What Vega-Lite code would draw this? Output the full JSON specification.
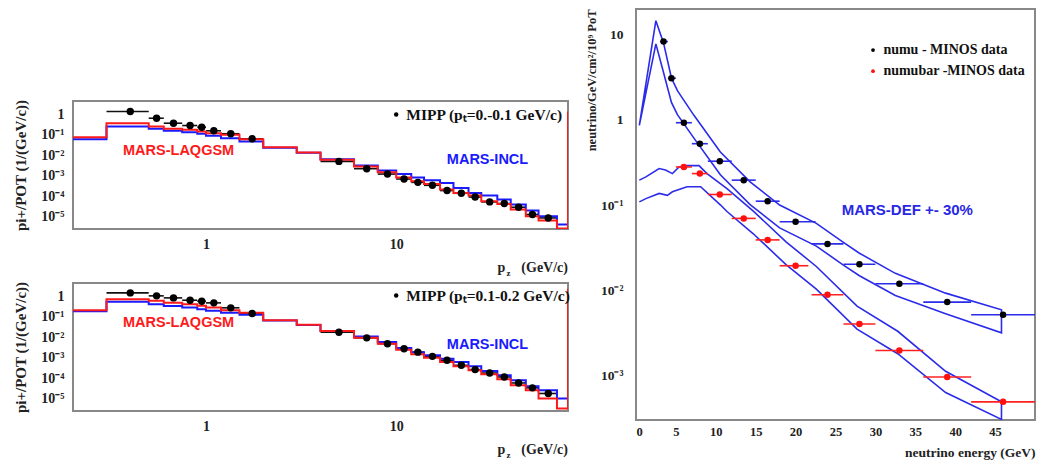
{
  "$schema": "https://vega.github.io/schema/vega-lite/v6.json",
  "padding": {"left": 12, "top": 7, "right": 0, "bottom": 0},
  "background": "white",
  "config": {
    "font": "Liberation Serif",
    "view": {"stroke": "#888888", "strokeWidth": 2},
    "axis": {"domain": false, "ticks": false, "tickSize": 0, "grid": false, "labelFont": "Liberation Serif", "labelFontWeight": "bold", "labelColor": "#222222", "titleFont": "Liberation Serif", "titleFontWeight": "bold", "titleColor": "#222222"}
  },
  "datasets": {
    "one": [{}],
    "histTop": [
      {"m":"L","x":0.2,"y":0.078},{"m":"L","x":0.3,"y":0.377},{"m":"L","x":0.5,"y":0.26},{"m":"L","x":0.6,"y":0.2},{"m":"L","x":0.75,"y":0.18},{"m":"L","x":0.9,"y":0.148},{"m":"L","x":1.0,"y":0.122},{"m":"L","x":1.2,"y":0.102},{"m":"L","x":1.5,"y":0.062},{"m":"L","x":2,"y":0.0254},{"m":"L","x":3,"y":0.014},{"m":"L","x":4,"y":0.0062},{"m":"L","x":6,"y":0.0029},{"m":"L","x":8,"y":0.00148},{"m":"L","x":10,"y":0.00084},{"m":"L","x":12,"y":0.00054},{"m":"L","x":14,"y":0.0004},{"m":"L","x":17,"y":0.000212},{"m":"L","x":20,"y":0.000145},{"m":"L","x":24,"y":0.000108},{"m":"L","x":28,"y":5.7e-5},{"m":"L","x":34,"y":4.2e-5},{"m":"L","x":40,"y":2.25e-5},{"m":"L","x":48,"y":1.06e-5},{"m":"L","x":56,"y":6.5e-6},{"m":"L","x":70,"y":2.65e-6},{"m":"L","x":80,"y":1.4},
      {"m":"I","x":0.2,"y":0.062},{"m":"I","x":0.3,"y":0.26},{"m":"I","x":0.5,"y":0.2},{"m":"I","x":0.6,"y":0.16},{"m":"I","x":0.75,"y":0.137},{"m":"I","x":0.9,"y":0.115},{"m":"I","x":1.0,"y":0.091},{"m":"I","x":1.2,"y":0.07},{"m":"I","x":1.5,"y":0.048},{"m":"I","x":2,"y":0.024},{"m":"I","x":3,"y":0.0135},{"m":"I","x":4,"y":0.0065},{"m":"I","x":6,"y":0.00325},{"m":"I","x":8,"y":0.0018},{"m":"I","x":10,"y":0.00122},{"m":"I","x":12,"y":0.00084},{"m":"I","x":14,"y":0.0006},{"m":"I","x":17,"y":0.000445},{"m":"I","x":20,"y":0.000254},{"m":"I","x":24,"y":0.000145},{"m":"I","x":28,"y":0.000108},{"m":"I","x":34,"y":6.9e-5},{"m":"I","x":40,"y":3.94e-5},{"m":"I","x":48,"y":2.0e-5},{"m":"I","x":56,"y":1.06e-5},{"m":"I","x":70,"y":4.2e-6},{"m":"I","x":80,"y":4.2e-6}
    ],
    "histBot": [
      {"m":"L","x":0.2,"y":0.215},{"m":"L","x":0.3,"y":0.74},{"m":"L","x":0.5,"y":0.62},{"m":"L","x":0.6,"y":0.49},{"m":"L","x":0.75,"y":0.42},{"m":"L","x":0.9,"y":0.35},{"m":"L","x":1.0,"y":0.29},{"m":"L","x":1.2,"y":0.215},{"m":"L","x":1.5,"y":0.16},{"m":"L","x":2,"y":0.07},{"m":"L","x":3,"y":0.042},{"m":"L","x":4,"y":0.0203},{"m":"L","x":6,"y":0.0097},{"m":"L","x":8,"y":0.0049},{"m":"L","x":10,"y":0.0025},{"m":"L","x":12,"y":0.00148},{"m":"L","x":14,"y":0.00102},{"m":"L","x":17,"y":0.00063},{"m":"L","x":20,"y":0.000385},{"m":"L","x":24,"y":0.000245},{"m":"L","x":28,"y":0.000157},{"m":"L","x":34,"y":8.9e-5},{"m":"L","x":40,"y":4.6e-5},{"m":"L","x":48,"y":2.6e-5},{"m":"L","x":56,"y":1.02e-5},{"m":"L","x":70,"y":3.3e-6},{"m":"L","x":80,"y":2.4},
      {"m":"I","x":0.2,"y":0.19},{"m":"I","x":0.3,"y":0.55},{"m":"I","x":0.5,"y":0.42},{"m":"I","x":0.6,"y":0.34},{"m":"I","x":0.75,"y":0.29},{"m":"I","x":0.9,"y":0.24},{"m":"I","x":1.0,"y":0.2},{"m":"I","x":1.2,"y":0.16},{"m":"I","x":1.5,"y":0.13},{"m":"I","x":2,"y":0.068},{"m":"I","x":3,"y":0.041},{"m":"I","x":4,"y":0.0205},{"m":"I","x":6,"y":0.0112},{"m":"I","x":8,"y":0.0059},{"m":"I","x":10,"y":0.003},{"m":"I","x":12,"y":0.0019},{"m":"I","x":14,"y":0.00132},{"m":"I","x":17,"y":0.00091},{"m":"I","x":20,"y":0.00063},{"m":"I","x":24,"y":0.000385},{"m":"I","x":28,"y":0.000228},{"m":"I","x":34,"y":0.00014},{"m":"I","x":40,"y":8.0e-5},{"m":"I","x":48,"y":4.1e-5},{"m":"I","x":56,"y":2.6e-5},{"m":"I","x":70,"y":1.02e-5},{"m":"I","x":80,"y":1.02e-5}
    ],
    "mippTop": [
      {"x":0.4,"lo":0.3,"hi":0.5,"y":1.4},{"x":0.55,"lo":0.5,"hi":0.6,"y":0.66},{"x":0.675,"lo":0.6,"hi":0.75,"y":0.377},{"x":0.825,"lo":0.75,"hi":0.9,"y":0.29},{"x":0.95,"lo":0.9,"hi":1.0,"y":0.24},{"x":1.1,"lo":1.0,"hi":1.2,"y":0.16},{"x":1.35,"lo":1.2,"hi":1.5,"y":0.115},{"x":1.75,"lo":1.5,"hi":2,"y":0.065},
      {"x":5,"lo":4,"hi":6,"y":0.0051},{"x":7,"lo":6,"hi":8,"y":0.00224},{"x":9,"lo":8,"hi":10,"y":0.00122},{"x":11,"lo":10,"hi":12,"y":0.0007},{"x":13,"lo":12,"hi":14,"y":0.00048},{"x":15.5,"lo":14,"hi":17,"y":0.000344},{"x":18.5,"lo":17,"hi":20,"y":0.00019},{"x":22,"lo":20,"hi":24,"y":0.00014},{"x":26,"lo":24,"hi":28,"y":9.2e-5},{"x":31,"lo":28,"hi":34,"y":5.3e-5},{"x":37,"lo":34,"hi":40,"y":4.4e-5},{"x":44,"lo":40,"hi":48,"y":2.9e-5},{"x":52,"lo":48,"hi":56,"y":1.28e-5},{"x":63,"lo":56,"hi":70,"y":8.7e-6}
    ],
    "mippBot": [
      {"x":0.4,"lo":0.3,"hi":0.5,"y":1.51},{"x":0.55,"lo":0.5,"hi":0.6,"y":1.08},{"x":0.675,"lo":0.6,"hi":0.75,"y":0.86},{"x":0.825,"lo":0.75,"hi":0.9,"y":0.66},{"x":0.95,"lo":0.9,"hi":1.0,"y":0.59},{"x":1.1,"lo":1.0,"hi":1.2,"y":0.49},{"x":1.35,"lo":1.2,"hi":1.5,"y":0.28},{"x":1.75,"lo":1.5,"hi":2,"y":0.148},
      {"x":5,"lo":4,"hi":6,"y":0.018},{"x":7,"lo":6,"hi":8,"y":0.0095},{"x":9,"lo":8,"hi":10,"y":0.0049},{"x":11,"lo":10,"hi":12,"y":0.0028},{"x":13,"lo":12,"hi":14,"y":0.0019},{"x":15.5,"lo":14,"hi":17,"y":0.00118},{"x":18.5,"lo":17,"hi":20,"y":0.00076},{"x":22,"lo":20,"hi":24,"y":0.00043},{"x":26,"lo":24,"hi":28,"y":0.000265},{"x":31,"lo":28,"hi":34,"y":0.00018},{"x":37,"lo":34,"hi":40,"y":0.000116},{"x":44,"lo":40,"hi":48,"y":5.9e-5},{"x":52,"lo":48,"hi":56,"y":3.4e-5},{"x":63,"lo":56,"hi":70,"y":1.8e-5}
    ],
    "minos": [
      {"s":"numu","E":3.45,"lo":3,"hi":4,"v":8.3},{"s":"numu","E":4.44,"lo":4,"hi":5,"v":3.08},{"s":"numu","E":6,"lo":5,"hi":7,"v":0.925},{"s":"numu","E":8,"lo":7,"hi":9,"v":0.525},{"s":"numu","E":10.5,"lo":9,"hi":12,"v":0.327},{"s":"numu","E":13.5,"lo":12,"hi":15,"v":0.196},{"s":"numu","E":16.5,"lo":15,"hi":18,"v":0.111},{"s":"numu","E":20,"lo":18,"hi":22.5,"v":0.0638},{"s":"numu","E":24,"lo":22,"hi":26,"v":0.035},{"s":"numu","E":28,"lo":26,"hi":30,"v":0.0202},{"s":"numu","E":33,"lo":30,"hi":36,"v":0.0119},{"s":"numu","E":39,"lo":36,"hi":42,"v":0.00726},{"s":"numu","E":46,"lo":42,"hi":50,"v":0.00516},
      {"s":"numubar","E":6,"lo":5,"hi":7,"v":0.28},{"s":"numubar","E":8,"lo":7,"hi":9,"v":0.234},{"s":"numubar","E":10.5,"lo":9,"hi":12,"v":0.133},{"s":"numubar","E":13.5,"lo":12,"hi":15,"v":0.0697},{"s":"numubar","E":16.5,"lo":15,"hi":18,"v":0.039},{"s":"numubar","E":20,"lo":18,"hi":21.6,"v":0.0194},{"s":"numubar","E":24,"lo":22,"hi":26,"v":0.00885},{"s":"numubar","E":28,"lo":26,"hi":30,"v":0.00402},{"s":"numubar","E":33,"lo":30,"hi":36,"v":0.00196},{"s":"numubar","E":39,"lo":36,"hi":42,"v":0.00096},{"s":"numubar","E":46,"lo":42,"hi":50,"v":0.00049}
    ],
    "bands": [
      {"b":"numu","i":0,"E":0.42,"v":0.86},{"b":"numu","i":1,"E":2.49,"v":14.6},{"b":"numu","i":2,"E":3.45,"v":8.0},{"b":"numu","i":3,"E":4.44,"v":3.1},{"b":"numu","i":4,"E":5.19,"v":2.2},{"b":"numu","i":5,"E":7.26,"v":1.13},{"b":"numu","i":6,"E":10.57,"v":0.42},{"b":"numu","i":7,"E":14.3,"v":0.187},{"b":"numu","i":8,"E":18.0,"v":0.1},{"b":"numu","i":9,"E":22.6,"v":0.061},{"b":"numu","i":10,"E":25.9,"v":0.037},{"b":"numu","i":11,"E":28,"v":0.0272},{"b":"numu","i":12,"E":32.5,"v":0.0158},{"b":"numu","i":13,"E":38.8,"v":0.00925},{"b":"numu","i":14,"E":45.8,"v":0.0059},
      {"b":"numu","i":15,"E":45.8,"v":0.00316},{"b":"numu","i":16,"E":38.8,"v":0.0053},{"b":"numu","i":17,"E":32.5,"v":0.0087},{"b":"numu","i":18,"E":28,"v":0.0148},{"b":"numu","i":19,"E":25.9,"v":0.02},{"b":"numu","i":20,"E":22.6,"v":0.033},{"b":"numu","i":21,"E":18.0,"v":0.054},{"b":"numu","i":22,"E":14.3,"v":0.101},{"b":"numu","i":23,"E":10.57,"v":0.227},{"b":"numu","i":24,"E":7.26,"v":0.61},{"b":"numu","i":25,"E":5.19,"v":1.15},{"b":"numu","i":26,"E":4.44,"v":1.6},{"b":"numu","i":27,"E":3.45,"v":3.6},{"b":"numu","i":28,"E":2.49,"v":7.8},{"b":"numu","i":29,"E":0.42,"v":0.86},
      {"b":"numubar","i":0,"E":0.42,"v":0.196},{"b":"numubar","i":1,"E":1.24,"v":0.214},{"b":"numubar","i":2,"E":2.9,"v":0.268},{"b":"numubar","i":3,"E":3.7,"v":0.258},{"b":"numubar","i":4,"E":4.56,"v":0.234},{"b":"numubar","i":5,"E":5.4,"v":0.28},{"b":"numubar","i":6,"E":6.4,"v":0.29},{"b":"numubar","i":7,"E":7.9,"v":0.29},{"b":"numubar","i":8,"E":8.9,"v":0.234},{"b":"numubar","i":9,"E":11.4,"v":0.156},{"b":"numubar","i":10,"E":14.7,"v":0.085},{"b":"numubar","i":11,"E":18.8,"v":0.037},{"b":"numubar","i":12,"E":22.6,"v":0.019},{"b":"numubar","i":13,"E":27.7,"v":0.0065},{"b":"numubar","i":14,"E":32.8,"v":0.0033},{"b":"numubar","i":15,"E":38.8,"v":0.00112},{"b":"numubar","i":16,"E":45.8,"v":0.00049},
      {"b":"numubar","i":17,"E":45.8,"v":0.000305},{"b":"numubar","i":18,"E":38.8,"v":0.00063},{"b":"numubar","i":19,"E":32.8,"v":0.0018},{"b":"numubar","i":20,"E":27.7,"v":0.0035},{"b":"numubar","i":21,"E":22.6,"v":0.0103},{"b":"numubar","i":22,"E":18.8,"v":0.02},{"b":"numubar","i":23,"E":14.7,"v":0.046},{"b":"numubar","i":24,"E":11.4,"v":0.084},{"b":"numubar","i":25,"E":10.6,"v":0.1},{"b":"numubar","i":26,"E":8.1,"v":0.164},{"b":"numubar","i":27,"E":6.4,"v":0.164},{"b":"numubar","i":28,"E":4.56,"v":0.143},{"b":"numubar","i":29,"E":3.94,"v":0.13},{"b":"numubar","i":30,"E":2.9,"v":0.137},{"b":"numubar","i":31,"E":1.24,"v":0.119},{"b":"numubar","i":32,"E":0.42,"v":0.109}
    ]
  },
  "hconcat": [
    {
      "vconcat": [
        {"width": 495, "height": 38, "view": {"stroke": null}, "data": {"values": []}, "mark": "point"},
        {
          "width": 495, "height": 128,
          "layer": [
            {"data": {"name": "mippTop"}, "mark": {"type": "rule", "color": "#111111", "strokeWidth": 1.6},
             "encoding": {
               "x": {"field": "lo", "type": "quantitative", "scale": {"type": "log", "domain": [0.2, 80], "nice": false}, "axis": {"values": [1, 10], "labelExpr": "datum.value < 5 ? '1' : '10'", "labelFontSize": 14, "labelPadding": 8, "title": null}},
               "x2": {"field": "hi"},
               "y": {"field": "y", "type": "quantitative", "scale": {"type": "log", "domain": [2.5e-6, 4.6], "nice": false}, "axis": {"values": [1e-5, 1e-4, 1e-3, 1e-2, 1e-1, 1], "labelExpr": "datum.value > 0.5 ? '1' : datum.value > 0.05 ? '10⁻¹' : datum.value > 0.005 ? '10⁻²' : datum.value > 0.0005 ? '10⁻³' : datum.value > 0.00005 ? '10⁻⁴' : '10⁻⁵'", "labelFontSize": 14, "labelPadding": 9, "title": "pi+/POT (1/(GeV/c))", "titleFontSize": 15, "titlePadding": 12}}
             }},
            {"data": {"name": "histTop"}, "transform": [{"filter": "datum.m == 'I'"}], "mark": {"type": "line", "interpolate": "step-after", "color": "#1a1aff", "strokeWidth": 2, "clip": true},
             "encoding": {"x": {"field": "x", "type": "quantitative"}, "y": {"field": "y", "type": "quantitative"}}},
            {"data": {"name": "histTop"}, "transform": [{"filter": "datum.m == 'L'"}], "mark": {"type": "line", "interpolate": "step-after", "color": "#ff1a1a", "strokeWidth": 2, "clip": true},
             "encoding": {"x": {"field": "x", "type": "quantitative"}, "y": {"field": "y", "type": "quantitative"}}},
            {"data": {"name": "mippTop"}, "mark": {"type": "circle", "color": "#000000", "size": 55, "opacity": 1},
             "encoding": {"x": {"field": "x", "type": "quantitative"}, "y": {"field": "y", "type": "quantitative"}}},
            {"data": {"name": "one"}, "mark": {"type": "text", "text": "MARS-LAQGSM", "font": "Liberation Sans", "fontWeight": "bold", "fontSize": 14.5, "color": "#ff1a1a", "align": "center", "baseline": "middle"},
             "encoding": {"x": {"datum": 0.718, "type": "quantitative"}, "y": {"datum": 0.0157, "type": "quantitative"}}},
            {"data": {"name": "one"}, "mark": {"type": "text", "text": "MARS-INCL", "font": "Liberation Sans", "fontWeight": "bold", "fontSize": 14.5, "color": "#1a1aff", "align": "center", "baseline": "middle"},
             "encoding": {"x": {"datum": 30.2, "type": "quantitative"}, "y": {"datum": 0.0057, "type": "quantitative"}}},
            {"data": {"name": "one"}, "mark": {"type": "circle", "color": "#000000", "size": 20, "opacity": 1},
             "encoding": {"x": {"datum": 10, "type": "quantitative"}, "y": {"datum": 1.0, "type": "quantitative"}}},
            {"data": {"name": "one"}, "mark": {"type": "text", "text": "MIPP (pₜ=0.-0.1 GeV/c)", "font": "Liberation Serif", "fontWeight": "bold", "fontSize": 15.5, "color": "#111111", "align": "left", "baseline": "middle"},
             "encoding": {"x": {"datum": 11.3, "type": "quantitative"}, "y": {"datum": 1.0, "type": "quantitative"}}},
            {"data": {"name": "one"}, "mark": {"type": "text", "text": "p", "font": "Liberation Serif", "fontWeight": "bold", "fontSize": 14, "color": "#222222", "align": "left", "baseline": "middle"},
             "encoding": {"x": {"datum": 34.1, "type": "quantitative"}, "y": {"datum": 3.1e-8, "type": "quantitative"}}},
            {"data": {"name": "one"}, "mark": {"type": "text", "text": "z", "font": "Liberation Serif", "fontWeight": "bold", "fontSize": 9, "color": "#222222", "align": "left", "baseline": "middle", "dy": 5},
             "encoding": {"x": {"datum": 38.0, "type": "quantitative"}, "y": {"datum": 3.1e-8, "type": "quantitative"}}},
            {"data": {"name": "one"}, "mark": {"type": "text", "text": "(GeV/c)", "font": "Liberation Serif", "fontWeight": "bold", "fontSize": 14, "color": "#222222", "align": "right", "baseline": "middle"},
             "encoding": {"x": {"datum": 80, "type": "quantitative"}, "y": {"datum": 3.1e-8, "type": "quantitative"}}}
          ]
        },
        {
          "width": 495, "height": 128,
          "layer": [
            {"data": {"name": "mippBot"}, "mark": {"type": "rule", "color": "#111111", "strokeWidth": 1.6},
             "encoding": {
               "x": {"field": "lo", "type": "quantitative", "scale": {"type": "log", "domain": [0.2, 80], "nice": false}, "axis": {"values": [1, 10], "labelExpr": "datum.value < 5 ? '1' : '10'", "labelFontSize": 14, "labelPadding": 8, "title": null}},
               "x2": {"field": "hi"},
               "y": {"field": "y", "type": "quantitative", "scale": {"type": "log", "domain": [2.5e-6, 4.6], "nice": false}, "axis": {"values": [1e-5, 1e-4, 1e-3, 1e-2, 1e-1, 1], "labelExpr": "datum.value > 0.5 ? '1' : datum.value > 0.05 ? '10⁻¹' : datum.value > 0.005 ? '10⁻²' : datum.value > 0.0005 ? '10⁻³' : datum.value > 0.00005 ? '10⁻⁴' : '10⁻⁵'", "labelFontSize": 14, "labelPadding": 9, "title": "pi+/POT (1/(GeV/c))", "titleFontSize": 15, "titlePadding": 12}}
             }},
            {"data": {"name": "histBot"}, "transform": [{"filter": "datum.m == 'I'"}], "mark": {"type": "line", "interpolate": "step-after", "color": "#1a1aff", "strokeWidth": 2, "clip": true},
             "encoding": {"x": {"field": "x", "type": "quantitative"}, "y": {"field": "y", "type": "quantitative"}}},
            {"data": {"name": "histBot"}, "transform": [{"filter": "datum.m == 'L'"}], "mark": {"type": "line", "interpolate": "step-after", "color": "#ff1a1a", "strokeWidth": 2, "clip": true},
             "encoding": {"x": {"field": "x", "type": "quantitative"}, "y": {"field": "y", "type": "quantitative"}}},
            {"data": {"name": "mippBot"}, "mark": {"type": "circle", "color": "#000000", "size": 55, "opacity": 1},
             "encoding": {"x": {"field": "x", "type": "quantitative"}, "y": {"field": "y", "type": "quantitative"}}},
            {"data": {"name": "one"}, "mark": {"type": "text", "text": "MARS-LAQGSM", "font": "Liberation Sans", "fontWeight": "bold", "fontSize": 14.5, "color": "#ff1a1a", "align": "center", "baseline": "middle"},
             "encoding": {"x": {"datum": 0.718, "type": "quantitative"}, "y": {"datum": 0.052, "type": "quantitative"}}},
            {"data": {"name": "one"}, "mark": {"type": "text", "text": "MARS-INCL", "font": "Liberation Sans", "fontWeight": "bold", "fontSize": 14.5, "color": "#1a1aff", "align": "center", "baseline": "middle"},
             "encoding": {"x": {"datum": 30.2, "type": "quantitative"}, "y": {"datum": 0.0041, "type": "quantitative"}}},
            {"data": {"name": "one"}, "mark": {"type": "circle", "color": "#000000", "size": 20, "opacity": 1},
             "encoding": {"x": {"datum": 10, "type": "quantitative"}, "y": {"datum": 1.12, "type": "quantitative"}}},
            {"data": {"name": "one"}, "mark": {"type": "text", "text": "MIPP (pₜ=0.1-0.2 GeV/c)", "font": "Liberation Serif", "fontWeight": "bold", "fontSize": 15.5, "color": "#111111", "align": "left", "baseline": "middle"},
             "encoding": {"x": {"datum": 11.3, "type": "quantitative"}, "y": {"datum": 1.12, "type": "quantitative"}}},
            {"data": {"name": "one"}, "mark": {"type": "text", "text": "p", "font": "Liberation Serif", "fontWeight": "bold", "fontSize": 14, "color": "#222222", "align": "left", "baseline": "middle"},
             "encoding": {"x": {"datum": 34.1, "type": "quantitative"}, "y": {"datum": 3.1e-8, "type": "quantitative"}}},
            {"data": {"name": "one"}, "mark": {"type": "text", "text": "z", "font": "Liberation Serif", "fontWeight": "bold", "fontSize": 9, "color": "#222222", "align": "left", "baseline": "middle", "dy": 5},
             "encoding": {"x": {"datum": 38.0, "type": "quantitative"}, "y": {"datum": 3.1e-8, "type": "quantitative"}}},
            {"data": {"name": "one"}, "mark": {"type": "text", "text": "(GeV/c)", "font": "Liberation Serif", "fontWeight": "bold", "fontSize": 14, "color": "#222222", "align": "right", "baseline": "middle"},
             "encoding": {"x": {"datum": 80, "type": "quantitative"}, "y": {"datum": 3.1e-8, "type": "quantitative"}}}
          ]
        }
      ],
      "spacing": 54,
      "bounds": "flush",
      "resolve": {"scale": {"x": "independent", "y": "independent"}}
    },
    {
      "width": 399, "height": 411,
      "layer": [
        {"data": {"name": "bands"}, "mark": {"type": "line", "color": "#2b2bea", "strokeWidth": 1.6, "clip": true},
         "encoding": {
           "x": {"field": "E", "type": "quantitative", "scale": {"domain": [0, 50], "nice": false}, "axis": {"values": [0, 5, 10, 15, 20, 25, 30, 35, 40, 45], "labelFontSize": 12.5, "labelPadding": 5, "title": "neutrino energy (GeV)", "titleFontSize": 13.5, "titleAnchor": "end", "titlePadding": 8}},
           "y": {"field": "v", "type": "quantitative", "scale": {"type": "log", "domain": [3e-4, 20], "nice": false}, "axis": {"values": [1e-3, 1e-2, 1e-1, 1, 10], "labelExpr": "datum.value > 5 ? '10' : datum.value > 0.5 ? '1' : datum.value > 0.05 ? '10⁻¹' : datum.value > 0.005 ? '10⁻²' : '10⁻³'", "labelFontSize": 13.5, "labelPadding": 13, "title": "neutrino/GeV/cm²/10⁹ PoT", "titleFontSize": 12.5, "titleAnchor": "end", "titlePadding": 2}},
           "detail": {"field": "b"},
           "order": {"field": "i", "type": "quantitative"}
         }},
        {"data": {"name": "minos"}, "transform": [{"filter": "datum.s == 'numu'"}], "mark": {"type": "rule", "color": "#2b2bea", "strokeWidth": 1.6},
         "encoding": {"x": {"field": "lo", "type": "quantitative"}, "x2": {"field": "hi"}, "y": {"field": "v", "type": "quantitative"}}},
        {"data": {"name": "minos"}, "transform": [{"filter": "datum.s == 'numubar'"}], "mark": {"type": "rule", "color": "#ff2020", "strokeWidth": 1.6},
         "encoding": {"x": {"field": "lo", "type": "quantitative"}, "x2": {"field": "hi"}, "y": {"field": "v", "type": "quantitative"}}},
        {"data": {"name": "minos"}, "transform": [{"filter": "datum.s == 'numu'"}], "mark": {"type": "circle", "color": "#000000", "size": 42, "opacity": 1},
         "encoding": {"x": {"field": "E", "type": "quantitative"}, "y": {"field": "v", "type": "quantitative"}}},
        {"data": {"name": "minos"}, "transform": [{"filter": "datum.s == 'numubar'"}], "mark": {"type": "circle", "color": "#ff1010", "size": 42, "opacity": 1},
         "encoding": {"x": {"field": "E", "type": "quantitative"}, "y": {"field": "v", "type": "quantitative"}}},
        {"data": {"name": "one"}, "mark": {"type": "circle", "color": "#000000", "size": 14, "opacity": 1},
         "encoding": {"x": {"datum": 29.7, "type": "quantitative"}, "y": {"datum": 6.6, "type": "quantitative"}}},
        {"data": {"name": "one"}, "mark": {"type": "circle", "color": "#ff1010", "size": 14, "opacity": 1},
         "encoding": {"x": {"datum": 29.7, "type": "quantitative"}, "y": {"datum": 3.73, "type": "quantitative"}}},
        {"data": {"name": "one"}, "mark": {"type": "text", "text": "numu - MINOS data", "font": "Liberation Serif", "fontWeight": "bold", "fontSize": 14, "color": "#111111", "align": "left", "baseline": "middle"},
         "encoding": {"x": {"datum": 31.0, "type": "quantitative"}, "y": {"datum": 6.6, "type": "quantitative"}}},
        {"data": {"name": "one"}, "mark": {"type": "text", "text": "numubar -MINOS data", "font": "Liberation Serif", "fontWeight": "bold", "fontSize": 14, "color": "#111111", "align": "left", "baseline": "middle"},
         "encoding": {"x": {"datum": 31.0, "type": "quantitative"}, "y": {"datum": 3.73, "type": "quantitative"}}},
        {"data": {"name": "one"}, "mark": {"type": "text", "text": "MARS-DEF +- 30%", "font": "Liberation Sans", "fontWeight": "bold", "fontSize": 15, "color": "#2828e6", "align": "center", "baseline": "middle"},
         "encoding": {"x": {"datum": 34.0, "type": "quantitative"}, "y": {"datum": 0.0875, "type": "quantitative"}}}
      ]
    }
  ],
  "spacing": 12,
  "resolve": {"scale": {"x": "independent", "y": "independent"}}
}
